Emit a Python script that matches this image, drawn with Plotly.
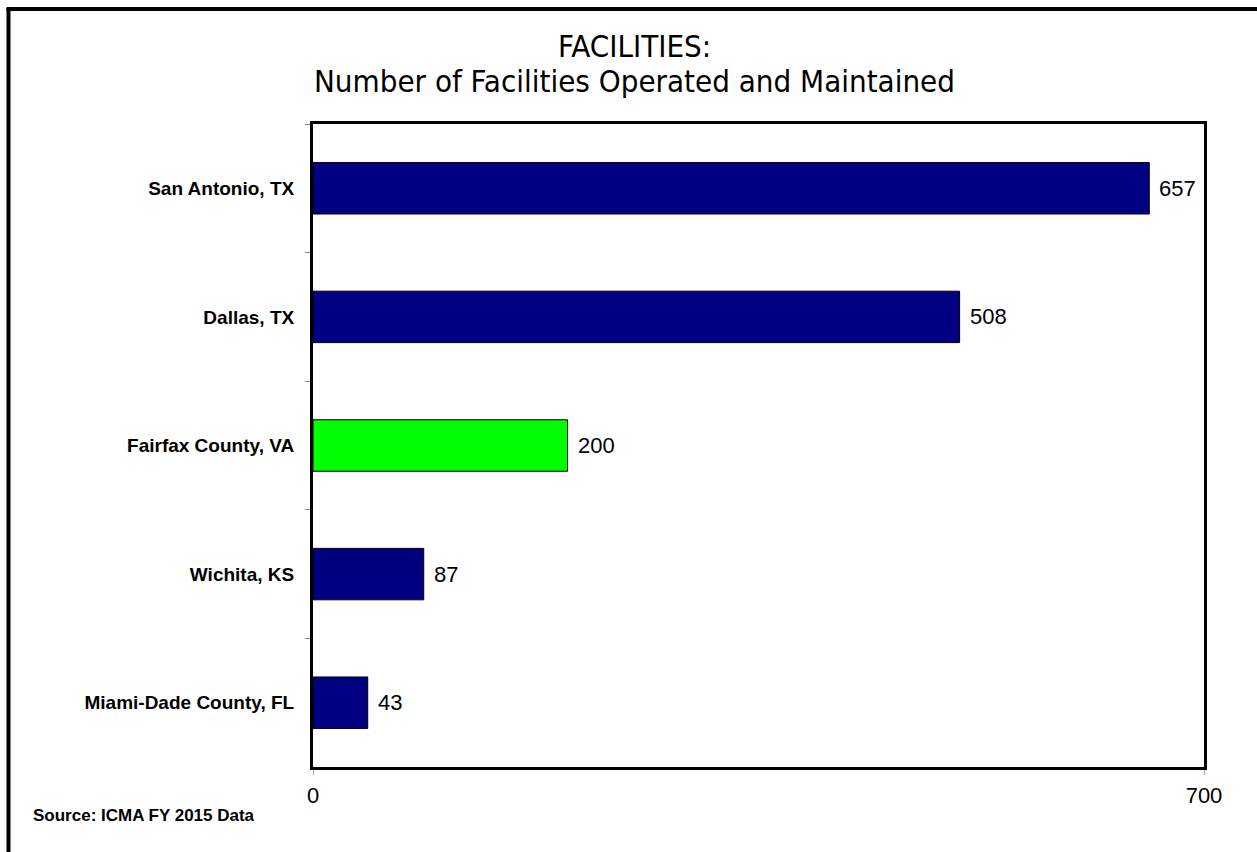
import plotly.graph_objects as go

# Jurisdictions, listed top to bottom as they appear on the chart
cities = ["San Antonio, TX", "Dallas, TX", "Fairfax County, VA", "Wichita, KS", "Miami-Dade County, FL"]
facilities = [657, 508, 200, 87, 43]
bar_colors = ["#000080", "#000080", "#00FF00", "#000080", "#000080"]

x_ticks = [0, 700]
x_range = [0, 700]

title_lines = ["FACILITIES:", "Number of Facilities Operated and Maintained"]
source_note = "Source: ICMA FY 2015 Data"

W, H = 1257, 852
L, R, T, B = 313, 53, 124, 85
pw, ph = W - L - R, H - T - B

TITLE_FONT = "DejaVu Sans Condensed, Roboto, Liberation Sans, sans-serif"


def px_x(p):
    return (p - L) / pw


def px_y(p):
    return 1 - (p - T) / ph


fig = go.Figure()
fig.add_trace(go.Bar(
    x=facilities,
    y=cities,
    orientation="h",
    width=0.4,
    marker=dict(color=bar_colors, line=dict(color="black", width=1)),
    hoverinfo="x+y",
))

# value labels to the right of each bar
annotations = []
for c, v in zip(cities, facilities):
    annotations.append(dict(
        x=v, y=c, xref="x", yref="y", text=str(v), showarrow=False,
        xanchor="left", yanchor="middle", xshift=8,
        font=dict(family="Liberation Sans", size=22, color="black"),
    ))

# two-line title
annotations.append(dict(
    x=px_x(634), y=px_y(46), xref="paper", yref="paper",
    text=title_lines[0], showarrow=False, xanchor="center", yanchor="middle",
    font=dict(family=TITLE_FONT, size=31, color="black"),
))
annotations.append(dict(
    x=px_x(634), y=px_y(81), xref="paper", yref="paper",
    text=title_lines[1], showarrow=False, xanchor="center", yanchor="middle",
    font=dict(family=TITLE_FONT, size=31, color="black"),
))

# source footnote
annotations.append(dict(
    x=px_x(31), y=px_y(815), xref="paper", yref="paper",
    text=source_note, showarrow=False, xanchor="left", yanchor="middle",
    font=dict(family="Liberation Sans", size=17, color="black", weight="bold"),
))

# outer frame: left and top edges
shapes = [
    dict(type="line", xref="paper", yref="paper",
         x0=px_x(8.5), x1=px_x(8.5), y0=px_y(8), y1=px_y(H + 5),
         line=dict(color="black", width=4)),
    dict(type="line", xref="paper", yref="paper",
         x0=px_x(6.5), x1=px_x(W + 5), y0=px_y(9), y1=px_y(9),
         line=dict(color="black", width=4)),
]

fig.update_layout(
    width=W, height=H,
    margin=dict(l=L, r=R, t=T, b=B, autoexpand=False),
    paper_bgcolor="white", plot_bgcolor="white",
    showlegend=False,
    annotations=annotations,
    shapes=shapes,
    bargap=0.6,
)

fig.update_xaxes(
    range=x_range, tickvals=x_ticks, ticktext=[str(t) for t in x_ticks],
    showgrid=False, zeroline=False,
    showline=True, linecolor="black", linewidth=3, mirror=True,
    ticks="outside", ticklen=5, tickcolor="#aaaaaa", tickwidth=1,
    ticklabelstandoff=2,
    tickfont=dict(family="Liberation Sans", size=22, color="black"),
    fixedrange=True,
)
fig.update_yaxes(
    categoryorder="array", categoryarray=cities, autorange="reversed",
    showgrid=False, zeroline=False,
    showline=True, linecolor="black", linewidth=3, mirror=True,
    ticks="outside", ticklen=5, tickcolor="#888888", tickwidth=1,
    tickson="boundaries", ticklabelstandoff=12,
    tickfont=dict(family="Liberation Sans", size=19, color="black", weight="bold"),
    fixedrange=True,
)

fig.write_html("out.html", config={"displayModeBar": False})
